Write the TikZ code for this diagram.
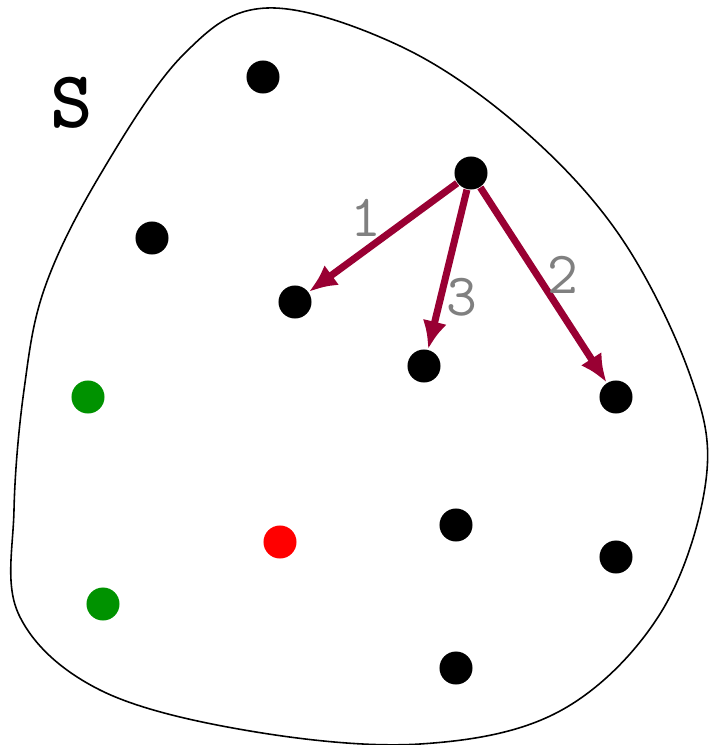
\documentclass[tikz,border=0pt]{standalone}
\usetikzlibrary{arrows.meta}
\definecolor{arrowred}{RGB}{153,0,51}
\definecolor{dotgreen}{RGB}{0,146,0}
\begin{document}
\begin{tikzpicture}[
    x=0.01cm, y=-0.01cm,
    % Node styles
    point/.style={circle, fill=black, minimum size=0.33cm, inner sep=0pt},
    greenpoint/.style={point, fill=dotgreen},
    redpoint/.style={point, fill=red},
    numlabel/.style={font=\ttfamily\fontsize{17}{19}\selectfont, text=gray},
    setlabel/.style={font=\ttfamily\bfseries\fontsize{23}{26}\selectfont},
    move/.style={-{Latex[length=8pt,width=7pt]}, line width=2pt, draw=arrowred},
]
\useasboundingbox (0,0) rectangle (708,745);

% ============================================================
% Set boundary
% ============================================================
\draw[line width=0.45pt] plot[smooth cycle, tension=0.6] coordinates {
  (267,8) (400,46) (520,127) (620,236) (690,375) (706,480) (660,614)
  (560,711) (420,744) (250,731) (100,690) (19,615) (14,510) (24,390)
  (45,287) (100,175) (183,55)
};
\node[setlabel] (S) at (72,103) {S};

% ============================================================
% Points
% ============================================================
\node[point] (p1) at (263,77) {};
\node[point] (p2) at (152,238) {};
\node[point] (p3) at (295,302) {};
\node[point] (top) at (471,173) {};
\node[point] (p4) at (424,366) {};
\node[point] (p5) at (616,397) {};
\node[point] (p6) at (456,525) {};
\node[point] (p7) at (616,557) {};
\node[point] (p8) at (456,668) {};
\node[greenpoint] (g1) at (88,397) {};
\node[greenpoint] (g2) at (103,604) {};
\node[redpoint] (r1) at (280,542) {};

% ============================================================
% Moves
% ============================================================
\draw[move] (top) -- (p3);
\draw[move] (top) -- (p5);
\draw[move] (top) -- (p4);

\node[numlabel] (n1) at (366,218) {1};
\node[numlabel] (n2) at (563,275) {2};
\node[numlabel] (n3) at (462,297) {3};

\end{tikzpicture}
\end{document}
